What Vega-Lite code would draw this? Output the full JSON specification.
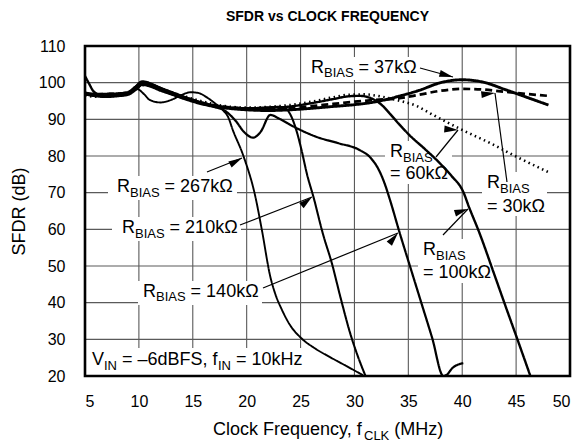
{
 "$schema": "https://vega.github.io/schema/vega-lite/v6.json",
 "width": 485, "height": 330,
 "autosize": {"type": "none"},
 "padding": {"left": 85, "top": 46, "right": 9, "bottom": 67},
 "background": "white",
 "title": {"text": "SFDR vs CLOCK FREQUENCY", "fontSize": 14, "fontWeight": "bold", "font": "Liberation Sans", "color": "black", "offset": 14},
 "config": {
  "view": {"stroke": null},
  "axis": {"grid": false, "domain": false, "ticks": false, "tickSize": 0, "labelFont": "Liberation Sans", "labelFontSize": 16, "labelColor": "black", "titleFont": "Liberation Sans", "titleFontSize": 18, "titleFontWeight": "normal", "titleColor": "black"}
 },
 "datasets": {
  "gridx": [
   {"f":10,"f2":10,"v":20,"v2":110},{"f":15,"f2":15,"v":20,"v2":110},{"f":20,"f2":20,"v":20,"v2":110},{"f":25,"f2":25,"v":20,"v2":110},{"f":30,"f2":30,"v":20,"v2":110},{"f":35,"f2":35,"v":20,"v2":110},{"f":40,"f2":40,"v":20,"v2":110},{"f":45,"f2":45,"v":20,"v2":110},
   {"f":5,"f2":50,"v":30,"v2":30},{"f":5,"f2":50,"v":40,"v2":40},{"f":5,"f2":50,"v":50,"v2":50},{"f":5,"f2":50,"v":60,"v2":60},{"f":5,"f2":50,"v":70,"v2":70},{"f":5,"f2":50,"v":80,"v2":80},{"f":5,"f2":50,"v":90,"v2":90},{"f":5,"f2":50,"v":100,"v2":100}
  ],
  "curves": [
   {"s":"37k","f":5,"v":97.3},{"s":"37k","f":6,"v":96.6},{"s":"37k","f":7,"v":96.4},{"s":"37k","f":8,"v":96.5},{"s":"37k","f":9,"v":97},{"s":"37k","f":9.7,"v":98.8},{"s":"37k","f":10.3,"v":99.8},{"s":"37k","f":11,"v":99.4},{"s":"37k","f":12,"v":98.3},{"s":"37k","f":13,"v":97.1},{"s":"37k","f":14,"v":95.9},{"s":"37k","f":15,"v":94.9},{"s":"37k","f":16,"v":94.1},{"s":"37k","f":17,"v":93.5},{"s":"37k","f":18,"v":93.1},{"s":"37k","f":20,"v":92.6},{"s":"37k","f":22,"v":92.4},{"s":"37k","f":24,"v":92.6},{"s":"37k","f":26,"v":93},{"s":"37k","f":28,"v":93.5},{"s":"37k","f":30,"v":94},{"s":"37k","f":32,"v":94.8},{"s":"37k","f":34,"v":96.2},{"s":"37k","f":36,"v":97.9},{"s":"37k","f":38,"v":100},{"s":"37k","f":40,"v":100.8},{"s":"37k","f":42,"v":100.1},{"s":"37k","f":44,"v":98.1},{"s":"37k","f":46,"v":96},{"s":"37k","f":48,"v":93.9},
   {"s":"30k","f":5,"v":97},{"s":"30k","f":6,"v":96.8},{"s":"30k","f":7,"v":96.9},{"s":"30k","f":8,"v":97},{"s":"30k","f":9,"v":97.3},{"s":"30k","f":9.7,"v":98.5},{"s":"30k","f":10.3,"v":99.5},{"s":"30k","f":11,"v":99.2},{"s":"30k","f":12,"v":98.2},{"s":"30k","f":13,"v":97.2},{"s":"30k","f":14,"v":96.2},{"s":"30k","f":15,"v":95.2},{"s":"30k","f":16,"v":94.4},{"s":"30k","f":17,"v":93.8},{"s":"30k","f":18,"v":93.4},{"s":"30k","f":20,"v":93},{"s":"30k","f":22,"v":92.9},{"s":"30k","f":24,"v":93.2},{"s":"30k","f":26,"v":93.6},{"s":"30k","f":28,"v":94.2},{"s":"30k","f":30,"v":94.8},{"s":"30k","f":32,"v":95.3},{"s":"30k","f":34,"v":95.7},{"s":"30k","f":36,"v":96.7},{"s":"30k","f":38,"v":97.8},{"s":"30k","f":40,"v":98.3},{"s":"30k","f":42,"v":98.1},{"s":"30k","f":44,"v":97.5},{"s":"30k","f":46,"v":96.9},{"s":"30k","f":48,"v":96.4},
   {"s":"60k","f":5,"v":96.5},{"s":"60k","f":6,"v":96.2},{"s":"60k","f":7,"v":96.3},{"s":"60k","f":8,"v":96.6},{"s":"60k","f":9,"v":97},{"s":"60k","f":9.7,"v":98.2},{"s":"60k","f":10.3,"v":99.3},{"s":"60k","f":11,"v":99.2},{"s":"60k","f":12,"v":98.4},{"s":"60k","f":13,"v":97.4},{"s":"60k","f":14,"v":96.5},{"s":"60k","f":15,"v":95.6},{"s":"60k","f":16,"v":94.8},{"s":"60k","f":17,"v":94.1},{"s":"60k","f":18,"v":93.6},{"s":"60k","f":20,"v":93.2},{"s":"60k","f":22,"v":93.4},{"s":"60k","f":24,"v":93.9},{"s":"60k","f":26,"v":94.8},{"s":"60k","f":28,"v":96},{"s":"60k","f":29.5,"v":96.7},{"s":"60k","f":31,"v":96.8},{"s":"60k","f":32.5,"v":96.2},{"s":"60k","f":34,"v":95.2},{"s":"60k","f":35.8,"v":93.6},{"s":"60k","f":37.3,"v":91.2},{"s":"60k","f":40,"v":87.1},{"s":"60k","f":42.6,"v":83.5},{"s":"60k","f":45.1,"v":79.7},{"s":"60k","f":48,"v":75.6},
   {"s":"100k","f":5,"v":101.8},{"s":"100k","f":5.4,"v":99.6},{"s":"100k","f":5.8,"v":97.6},{"s":"100k","f":6.5,"v":96.6},{"s":"100k","f":7.5,"v":96.5},{"s":"100k","f":8.5,"v":96.9},{"s":"100k","f":9.3,"v":97.6},{"s":"100k","f":10,"v":99.6},{"s":"100k","f":10.6,"v":100.2},{"s":"100k","f":11.2,"v":99.6},{"s":"100k","f":12,"v":98.6},{"s":"100k","f":13,"v":97.4},{"s":"100k","f":14,"v":96.3},{"s":"100k","f":15,"v":95.3},{"s":"100k","f":16,"v":94.4},{"s":"100k","f":18,"v":93.4},{"s":"100k","f":20,"v":93},{"s":"100k","f":22,"v":93.1},{"s":"100k","f":24,"v":93.5},{"s":"100k","f":26,"v":94.4},{"s":"100k","f":28,"v":95.5},{"s":"100k","f":29.5,"v":96.3},{"s":"100k","f":30.5,"v":96.4},{"s":"100k","f":31.5,"v":95.8},{"s":"100k","f":32.5,"v":94},{"s":"100k","f":33.3,"v":91.5},{"s":"100k","f":34.2,"v":88.5},{"s":"100k","f":35.1,"v":85.7},{"s":"100k","f":36.5,"v":82},{"s":"100k","f":37.9,"v":78.1},{"s":"100k","f":39,"v":74.6},{"s":"100k","f":40.1,"v":70.2},{"s":"100k","f":40.6,"v":66.3},{"s":"100k","f":41.6,"v":59},{"s":"100k","f":43,"v":47.5},{"s":"100k","f":44,"v":39.2},{"s":"100k","f":45,"v":31},{"s":"100k","f":45.7,"v":25.2},{"s":"100k","f":46.3,"v":20.2},
   {"s":"140k","f":5,"v":96.8},{"s":"140k","f":6,"v":96.3},{"s":"140k","f":7,"v":96.1},{"s":"140k","f":8,"v":96.3},{"s":"140k","f":9,"v":96.7},{"s":"140k","f":9.7,"v":98},{"s":"140k","f":10.3,"v":99.4},{"s":"140k","f":11,"v":99},{"s":"140k","f":12,"v":97.8},{"s":"140k","f":13,"v":96.8},{"s":"140k","f":14,"v":95.8},{"s":"140k","f":15,"v":95},{"s":"140k","f":16,"v":94.2},{"s":"140k","f":17,"v":93.4},{"s":"140k","f":18,"v":92.3},{"s":"140k","f":19,"v":89.5},{"s":"140k","f":19.8,"v":86.4},{"s":"140k","f":20.6,"v":85},{"s":"140k","f":21.3,"v":86.6},{"s":"140k","f":22.2,"v":91.2},{"s":"140k","f":23,"v":90.2},{"s":"140k","f":24.5,"v":87.8},{"s":"140k","f":26.5,"v":85.2},{"s":"140k","f":28.5,"v":83.5},{"s":"140k","f":30.5,"v":81.6},{"s":"140k","f":31.5,"v":79.5},{"s":"140k","f":32.3,"v":76},{"s":"140k","f":32.8,"v":72.5},{"s":"140k","f":33.3,"v":68},{"s":"140k","f":34.2,"v":59},{"s":"140k","f":35.2,"v":49.5},{"s":"140k","f":36.2,"v":40},{"s":"140k","f":37.2,"v":30.5},{"s":"140k","f":38.25,"v":20},{"s":"140k","f":38.55,"v":20.3},{"s":"140k","f":39.1,"v":22.2},{"s":"140k","f":40.1,"v":23.5},
   {"s":"210k","f":5,"v":97.2},{"s":"210k","f":6,"v":97},{"s":"210k","f":7,"v":97},{"s":"210k","f":8,"v":97.1},{"s":"210k","f":9,"v":97.5},{"s":"210k","f":9.7,"v":99},{"s":"210k","f":10.3,"v":100.4},{"s":"210k","f":11,"v":99.8},{"s":"210k","f":12,"v":98.6},{"s":"210k","f":13,"v":97.5},{"s":"210k","f":14,"v":96.4},{"s":"210k","f":15,"v":95.4},{"s":"210k","f":16,"v":94.5},{"s":"210k","f":17,"v":93.8},{"s":"210k","f":18,"v":93.3},{"s":"210k","f":20,"v":93},{"s":"210k","f":22,"v":93.3},{"s":"210k","f":23,"v":93.4},{"s":"210k","f":23.6,"v":93},{"s":"210k","f":24,"v":91.6},{"s":"210k","f":24.6,"v":87.1},{"s":"210k","f":25.1,"v":81.5},{"s":"210k","f":25.6,"v":75},{"s":"210k","f":26.2,"v":68.8},{"s":"210k","f":27.1,"v":58.5},{"s":"210k","f":27.9,"v":50.8},{"s":"210k","f":28.7,"v":41.5},{"s":"210k","f":29.6,"v":31.7},{"s":"210k","f":30.3,"v":25.5},{"s":"210k","f":31,"v":20.2},
   {"s":"267k","f":5,"v":97},{"s":"267k","f":6,"v":96.4},{"s":"267k","f":7,"v":96.5},{"s":"267k","f":8,"v":96.8},{"s":"267k","f":9,"v":97.2},{"s":"267k","f":9.8,"v":98.3},{"s":"267k","f":10.5,"v":96.8},{"s":"267k","f":11,"v":95.3},{"s":"267k","f":12,"v":94.6},{"s":"267k","f":13,"v":95.3},{"s":"267k","f":14,"v":96.7},{"s":"267k","f":14.8,"v":97.4},{"s":"267k","f":15.5,"v":97.2},{"s":"267k","f":16.3,"v":96},{"s":"267k","f":17,"v":94.5},{"s":"267k","f":17.8,"v":92.5},{"s":"267k","f":18.3,"v":90.5},{"s":"267k","f":18.7,"v":87.2},{"s":"267k","f":19.7,"v":80},{"s":"267k","f":20.8,"v":69},{"s":"267k","f":21.4,"v":60},{"s":"267k","f":22.2,"v":47},{"s":"267k","f":22.7,"v":42},{"s":"267k","f":23.2,"v":38.5},{"s":"267k","f":24,"v":34},{"s":"267k","f":25,"v":30.5},{"s":"267k","f":26.3,"v":27.6},{"s":"267k","f":27.7,"v":25.2},{"s":"267k","f":29.2,"v":22.8},{"s":"267k","f":30.8,"v":20.2}
  ],
  "boxes": [
   {"f":25.41,"f2":36.45,"v":100.7,"v2":107.0},
   {"f":7.134,"f2":19.103,"v":68.0,"v2":74.55},
   {"f":7.505,"f2":19.474,"v":56.82,"v2":63.36},
   {"f":9.917,"f2":21.422,"v":39.36,"v2":45.91},
   {"f":32.835,"f2":39.05,"v":72.36,"v2":84.09},
   {"f":41.835,"f2":47.866,"v":63.64,"v2":75.64},
   {"f":35.9,"f2":42.95,"v":45.36,"v2":57.36},
   {"f":5.278,"f2":25.78,"v":20.27,"v2":27.64}
  ],
  "frame": [
   {"f":5,"f2":50,"v":20,"v2":110}
  ],
  "arrows": [
   {"a":"37k","f":36.082,"v":104.0,"f2":39.144,"v2":101.545},
   {"a":"60k","f":37.566,"v":79.727,"f2":39.607,"v2":87.09},
   {"a":"30k","f":44.154,"v":72.909,"f2":43.04,"v2":97.18},
   {"a":"100k","f":38.216,"v":58.45,"f2":40.536,"v2":65.545},
   {"a":"267k","f":16.319,"v":75.636,"f2":19.567,"v2":79.455},
   {"a":"210k","f":19.381,"v":61.18,"f2":26.061,"v2":68.818},
   {"a":"140k","f":21.515,"v":44.0,"f2":34.04,"v2":59.0}
  ],
  "texts": [
   {"t":"R","k":"n","f":25.969,"v":102.636},{"t":"BIAS","k":"s","f":27.175,"v":101.41},{"t":"= 37kΩ","k":"n","f":30.385,"v":102.636},
   {"t":"R","k":"n","f":7.969,"v":70.18},{"t":"BIAS","k":"s","f":9.175,"v":68.95},{"t":"= 267kΩ","k":"n","f":12.385,"v":70.18},
   {"t":"R","k":"n","f":8.433,"v":59.0},{"t":"BIAS","k":"s","f":9.639,"v":57.77},{"t":"= 210kΩ","k":"n","f":12.849,"v":59.0},
   {"t":"R","k":"n","f":10.381,"v":41.545},{"t":"BIAS","k":"s","f":11.588,"v":40.32},{"t":"= 140kΩ","k":"n","f":14.798,"v":41.545},
   {"t":"R","k":"n","f":33.298,"v":79.727},{"t":"BIAS","k":"s","f":34.504,"v":78.5},{"t":"= 60kΩ","k":"n","f":33.298,"v":73.727},
   {"t":"R","k":"n","f":42.298,"v":71.273},{"t":"BIAS","k":"s","f":43.504,"v":70.045},{"t":"= 30kΩ","k":"n","f":42.298,"v":64.727},
   {"t":"R","k":"n","f":36.36,"v":53.0},{"t":"BIAS","k":"s","f":37.567,"v":51.77},{"t":"= 100kΩ","k":"n","f":36.36,"v":46.727},
   {"t":"V","k":"n","f":5.649,"v":23.0},{"t":"IN","k":"s","f":6.763,"v":21.77},{"t":"= –6dBFS, f","k":"n","f":8.433,"v":23.0},{"t":"IN","k":"s","f":17.34,"v":21.77},{"t":"= 10kHz","k":"n","f":19.01,"v":23.0},
   {"t":"Clock Frequency, f","k":"n","f":16.876,"v":3.909},{"t":"CLK","k":"s","f":30.886,"v":2.545},{"t":"(MHz)","k":"n","f":33.698,"v":3.909}
  ]
 },
 "encoding": {
  "x": {"field": "f", "type": "quantitative", "scale": {"domain": [5, 50], "nice": false, "zero": false},
        "axis": {"values": [5,10,15,20,25,30,35,40,45,50], "labelPadding": 17, "title": null}},
  "y": {"field": "v", "type": "quantitative", "scale": {"domain": [20, 110], "nice": false, "zero": false},
        "axis": {"values": [20,30,40,50,60,70,80,90,100,110], "labelPadding": 20, "title": "SFDR (dB)", "titlePadding": 10}}
 },
 "layer": [
  {
   "data": {"name": "gridx"},
   "mark": {"type": "rule", "color": "#5a5a5a", "strokeWidth": 1.1},
   "encoding": {"x2": {"field": "f2"}, "y2": {"field": "v2"}}
  },
  {
   "data": {"name": "boxes"},
   "mark": {"type": "rect", "fill": "white", "stroke": null},
   "encoding": {"x2": {"field": "f2"}, "y2": {"field": "v2"}}
  },
  {
   "data": {"name": "curves"},
   "mark": {"type": "line", "interpolate": "monotone", "color": "black", "clip": true},
   "encoding": {
    "detail": {"field": "s"},
    "strokeDash": {"field": "s", "type": "nominal", "legend": null,
      "scale": {"domain": ["37k","30k","60k","100k","140k","210k","267k"], "range": [[1,0],[7,4],[1.5,3.5],[1,0],[1,0],[1,0],[1,0]]}},
    "strokeWidth": {"field": "s", "type": "nominal", "legend": null,
      "scale": {"domain": ["37k","30k","60k","100k","140k","210k","267k"], "range": [2.9,1.9,1.6,2.9,2.9,2.9,2.9]}}
   }
  },
  {
   "data": {"name": "arrows"},
   "mark": {"type": "rule", "color": "black", "strokeWidth": 1.2},
   "encoding": {"x2": {"field": "f2"}, "y2": {"field": "v2"}}
  },
  {
   "data": {"name": "arrows"},
   "mark": {"type": "point", "shape": "M0,0L-0.3,1.2L0.3,1.2Z", "filled": true, "color": "black", "opacity": 1, "size": 520, "strokeWidth": 0},
   "encoding": {
    "x": {"field": "f2", "type": "quantitative"},
    "y": {"field": "v2", "type": "quantitative"},
    "angle": {"field": "a", "type": "nominal", "legend": null,
      "scale": {"domain": ["37k","60k","30k","100k","267k","210k","140k"], "range": [105.3,39.4,352.3,43.9,68.2,68.7,67.8]}}
   }
  },
  {
   "data": {"name": "texts"},
   "mark": {"type": "text", "align": "left", "baseline": "alphabetic", "font": "Liberation Sans", "color": "black"},
   "encoding": {
    "text": {"field": "t"},
    "size": {"field": "k", "type": "nominal", "legend": null, "scale": {"domain": ["n","s"], "range": [18,13]}}
   }
  },
  {
   "data": {"name": "frame"},
   "mark": {"type": "rect", "filled": false, "stroke": "black", "strokeWidth": 2.6, "fill": null},
   "encoding": {"x2": {"field": "f2"}, "y2": {"field": "v2"}}
  }
 ]
}
